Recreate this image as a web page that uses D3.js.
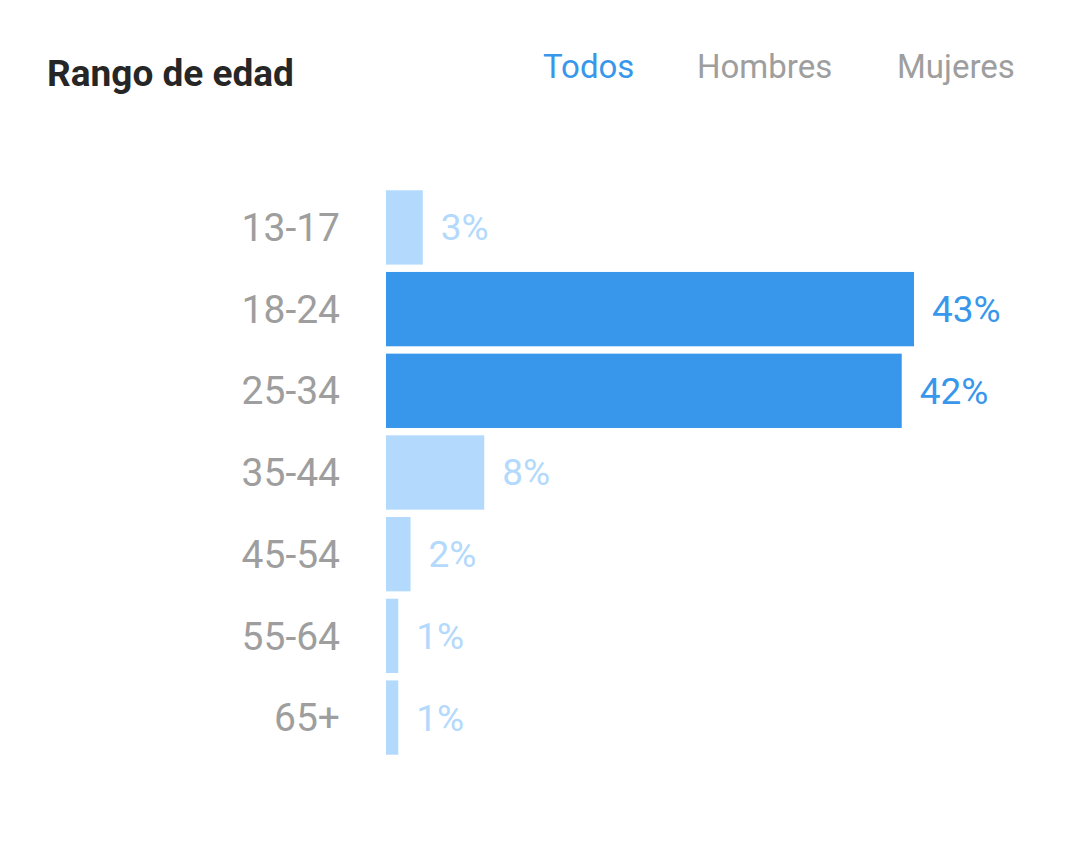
<!DOCTYPE html>
<html><head><meta charset="utf-8">
<script src="https://cdn.jsdelivr.net/npm/d3@7"></script>
<style>body{margin:0;background:#fff}</style>
</head><body>
<div id="chart"></div>
<script>
const ageGroups = ["13-17", "18-24", "25-34", "35-44", "45-54", "55-64", "65+"];
const percents = [3, 43, 42, 8, 2, 1, 1];
const highlighted = ["18-24", "25-34"];
const tabs = ["Todos", "Hombres", "Mujeres"];

const svg = d3.select('#chart').append('svg')
  .attr('width', 1079).attr('height', 843)
  .style('font-family', 'Roboto, sans-serif');

svg.append('text').text('Rango de edad')
  .attr('x', 47).attr('y', 86)
  .attr('font-size', 37).attr('font-weight', 'bold').attr('fill', '#262626');

// Tabs
const tabX = [543, 697, 897];
svg.selectAll('.tab').data(tabs).enter().append('text')
  .attr('x', (d, i) => tabX[i]).attr('y', 78)
  .attr('font-size', 33)
  .attr('fill', (d, i) => i == 0 ? '#3897eb' : '#9e9e9e')
  .text(d => d);

const x = d3.scaleLinear().domain([0, 43]).range([386, 914]);
const y = d3.scaleBand().domain(ageGroups).range([187, 758]).paddingInner(0.09).paddingOuter(0.04);

const data = ageGroups.map((g, i) => ({ g: g, v: percents[i], hi: highlighted.includes(g) }));

svg.selectAll('.bar').data(data).enter().append('rect')
  .attr('x', x(0)).attr('y', d => y(d.g))
  .attr('width', d => x(d.v) - x(0)).attr('height', y.bandwidth())
  .attr('fill', d => d.hi ? '#3897eb' : '#b3d9fc');

svg.selectAll('.lbl').data(data).enter().append('text')
  .attr('x', 340).attr('y', d => y(d.g) + y.bandwidth() / 2)
  .attr('dy', '0.35em').attr('text-anchor', 'end')
  .attr('font-size', 39).attr('fill', '#9e9e9e')
  .text(d => d.g);

svg.selectAll('.val').data(data).enter().append('text')
  .attr('x', d => x(d.v) + 18).attr('y', d => y(d.g) + y.bandwidth() / 2)
  .attr('dy', '0.35em')
  .attr('font-size', 37).attr('fill', d => d.hi ? '#3897eb' : '#b3d9fc')
  .text(d => d.v + '%');
</script>
</body></html>
